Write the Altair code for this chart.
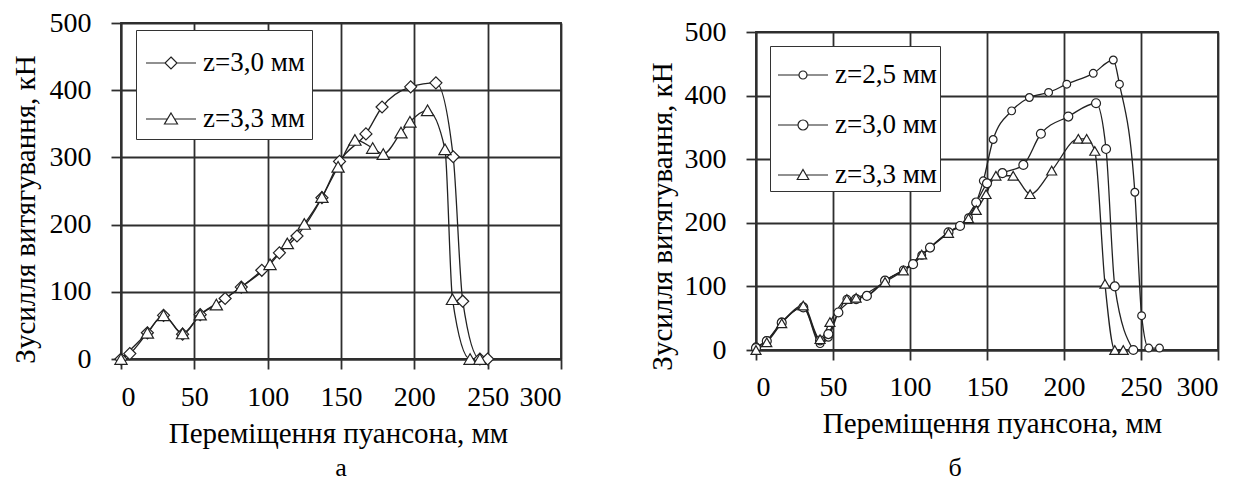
import altair as alt
import pandas as pd

# ---------------- data ----------------
# panel "а"
a_series = ["z=3,0 мм", "z=3,3 мм"]
a_z30_x = [0, 6, 18, 29, 42, 54, 71, 82, 96, 108, 120, 137, 149, 167, 178, 197.5, 214.7, 226.5, 233, 244.7, 250]
a_z30_y = [0, 8, 39, 65, 37, 66, 90, 107, 132, 158, 183, 240, 294, 335, 375, 405, 411, 301, 86, 0, 0]
a_z33_x = [0, 18, 29, 42, 54, 65, 82, 101.6, 113.4, 125, 137, 148, 159.5, 171.6, 178.8, 190.9, 197, 209, 220.9, 226, 238, 244.7]
a_z33_y = [0, 39, 65, 38, 66, 81, 107, 141, 172, 201, 241, 286, 326, 314, 305, 337, 353, 370, 312, 89, 0, 0]

# panel "б"
b_series = ["z=2,5 мм", "z=3,0 мм", "z=3,3 мм"]
b_z25_x = [0, 7, 16.7, 30.7, 41.6, 47, 53.5, 59, 72, 83.8, 95.7, 107.6, 113, 125, 138, 143, 147.6, 154, 166, 177.5, 190, 201.8, 219, 232, 236, 246, 250.4, 255, 262]
b_z25_y = [5, 15, 44, 67, 10, 20, 59, 80, 85, 109, 126, 149, 161, 185, 208, 232, 266, 331, 376, 397, 405, 418, 435, 456, 418, 248, 54, 3, 3]
b_z30_x = [0, 7, 16.7, 30.7, 41.6, 47, 53.5, 65, 72, 83.8, 102, 113, 125, 132.5, 143, 150, 160, 173.6, 185, 202.8, 220.8, 227.3, 233, 245]
b_z30_y = [3, 14, 43, 67, 15, 25, 59, 80, 85, 109, 135, 161, 185, 195, 232, 262, 278, 291, 340, 367, 388, 316, 100, 0]
b_z33_x = [0, 7, 16.7, 30.7, 41.6, 48, 59, 65, 83.8, 95.7, 107.6, 125, 138, 143, 149.4, 155.8, 167, 178, 192, 209.3, 214.7, 220, 226.6, 233, 238.5]
b_z33_y = [0, 12, 42, 70, 17, 44, 80, 82, 107, 125, 150, 184, 207, 220, 245, 274, 274, 245, 282, 332, 332, 313, 104, 0, 0]

x_ticks = [0, 50, 100, 150, 200, 250, 300]
y_ticks = [0, 100, 200, 300, 400, 500]
x_title = "Переміщення пуансона, мм"
y_title = "Зусилля витягування, кН"

FONT = "Liberation Serif"
INK = "#222222"
GRID = "#2e2e2e"


def table(names, xs, ys):
    rows = []
    for n, xv, yv in zip(names, xs, ys):
        for a, b in zip(xv, yv):
            rows.append({"x": a, "y": b, "series": n})
    return pd.DataFrame(rows)


df_a = table(a_series, [a_z30_x, a_z33_x], [a_z30_y, a_z33_y])
df_b = table(b_series, [b_z25_x, b_z30_x, b_z33_x], [b_z25_y, b_z30_y, b_z33_y])

# legend symbols: a line with the marker in the middle (unit square -1..1)
P_DIAMOND = "M-1,0H-0.24M0.24,0H1M0,-0.24L0.24,0L0,0.24L-0.24,0Z"
P_TRI = "M-1,0H-0.13M0.13,0H1M0,-0.24L0.26,0.2L-0.26,0.2Z"
P_CIRC_S = "M-1,0H-0.16M0.16,0H1M0.16,0A0.16,0.16 0 1 1 -0.16,0A0.16,0.16 0 1 1 0.16,0Z"
P_CIRC_L = "M-1,0H-0.2M0.2,0H1M0.2,0A0.2,0.2 0 1 1 -0.2,0A0.2,0.2 0 1 1 0.2,0Z"
P_TRI_S = "M-1,0H-0.12M0.12,0H1M0,-0.22L0.23,0.18L-0.23,0.18Z"


def panel(df, series, shapes, sizes, paths, w, h, xt, yt, leg, caption):
    base = alt.Chart(df)
    xenc = alt.X("x:Q", scale=alt.Scale(domain=[0, 300], nice=False),
                 axis=alt.Axis(values=x_ticks, title=x_title, titleX=xt[0], titleY=xt[1],
                               titleAlign="center", titleBaseline="middle",
                               labelPadding=xt[2]))
    yenc = alt.Y("y:Q", scale=alt.Scale(domain=[0, 500], nice=False),
                 axis=alt.Axis(values=y_ticks, title=y_title, titleX=yt[0], titleY=yt[1],
                               titleAngle=270, titleAlign="center", titleBaseline="middle",
                               labelPadding=yt[2]))
    line = base.mark_line(interpolate="monotone", color=INK, strokeWidth=1.3).encode(
        x=xenc, y=yenc, detail="series:N")
    pts = base.mark_point(filled=True, fill="white", stroke=INK, strokeWidth=1.2, opacity=1).encode(
        x="x:Q", y="y:Q",
        shape=alt.Shape("series:N", scale=alt.Scale(domain=series, range=shapes), legend=None),
        size=alt.Size("series:N", scale=alt.Scale(domain=series, range=sizes), legend=None),
    )
    legend_layer = base.mark_point(opacity=0, color=INK).encode(
        x="x:Q", y="y:Q",
        shape=alt.Shape("series:N", scale=alt.Scale(domain=series, range=paths),
                        legend=alt.Legend(
                            orient="none", legendX=leg[0], legendY=leg[1], title=None,
                            labelFont=FONT, labelFontSize=27, labelColor="black",
                            symbolSize=2500, symbolStrokeWidth=1.2, symbolStrokeColor=INK,
                            symbolFillColor="white", symbolOpacity=1,
                            strokeColor="#333333", fillColor="white", cornerRadius=0,
                            padding=leg[2], rowPadding=leg[3], symbolOffset=leg[4],
                            labelOffset=6)),
    )
    return alt.layer(line, pts, legend_layer).resolve_scale(shape="independent", size="independent").properties(
        width=w, height=h,
        title=alt.TitleParams(caption[0], orient="bottom", anchor="middle", font=FONT,
                              fontSize=26, fontWeight="normal", color="black",
                              offset=caption[1], dx=caption[2]),
    )


left = panel(df_a, a_series, ["diamond", "triangle-up"], [144, 150], [P_DIAMOND, P_TRI],
             440, 336, (217, 74, 14), (-96, 186, 20), (15, 7, 7, 17, 2), ("а", 7, 0))
right = panel(df_b, b_series, ["circle", "circle", "triangle-up"], [60, 100, 120],
              [P_CIRC_S, P_CIRC_L, P_TRI_S],
              462, 318, (236, 73, 13), (-94, 184, 20), (14, 14, 3, 11, 4), ("б", 17, -32))

chart = alt.hconcat(left, right, spacing=195, bounds="flush", center=True).resolve_scale(
    x="independent", y="independent", shape="independent", size="independent"
).resolve_legend(shape="independent").properties(
    padding={"left": 2, "top": 0, "right": 0, "bottom": 0},
    background="white",
).configure_axis(
    labelFont=FONT, labelFontSize=28, labelColor="black",
    titleFont=FONT, titleFontSize=29, titleFontWeight="normal", titleColor="black",
    grid=True, gridColor=GRID, gridWidth=1.8, gridOpacity=1,
    domainColor=GRID, domainWidth=1.8,
    tickColor=GRID, tickWidth=1.8, tickSize=10,
).configure_view(stroke=GRID, strokeWidth=1.8)

chart.save("out.html", embed_options={"renderer": "svg", "actions": False})
